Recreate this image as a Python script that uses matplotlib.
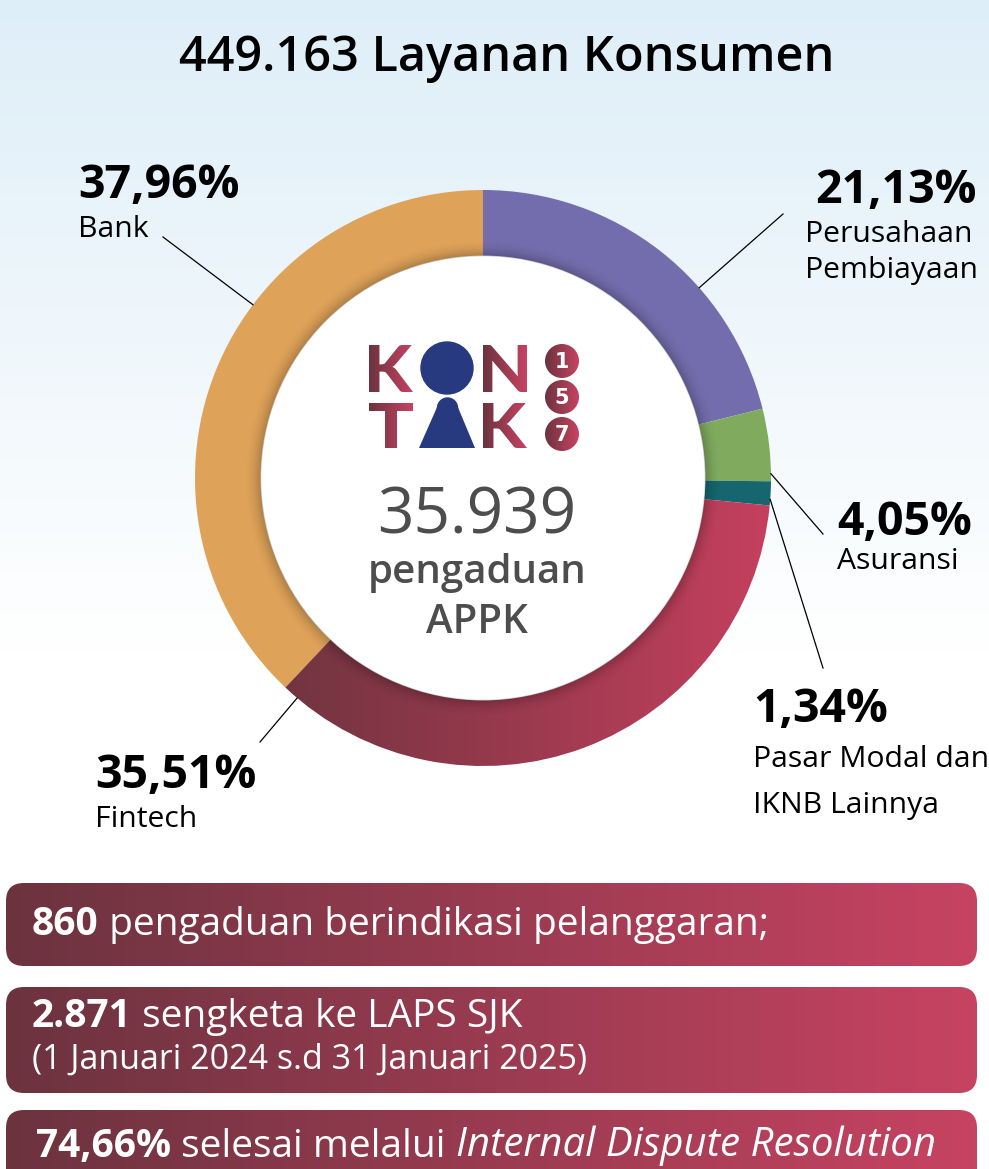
import numpy as np
import matplotlib
matplotlib.use('Agg')
import matplotlib.pyplot as plt
import matplotlib.font_manager as fm
from matplotlib.colors import LinearSegmentedColormap
from matplotlib.patches import Circle, Polygon, FancyBboxPatch, PathPatch, Wedge
from matplotlib.textpath import TextPath
from matplotlib.font_manager import FontProperties
from matplotlib.transforms import Affine2D

W, H = 989, 1169


def has_bold(fam):
    return any(f.name == fam and f.weight in (600, 700, 'bold', 'semibold')
               for f in fm.fontManager.ttflist)


FONT = next((f for f in ['Noto Sans', 'Open Sans', 'Lato', 'Roboto'] if has_bold(f)),
            'DejaVu Sans')

# data
categories = ['Perusahaan\nPembiayaan', 'Asuransi', 'Pasar Modal dan\nIKNB Lainnya', 'Fintech', 'Bank']
shares = [21.13, 4.05, 1.34, 35.51, 37.96]
share_labels = ['21,13%', '4,05%', '1,34%', '35,51%', '37,96%']
seg_colors = ['#746dad', '#80ab5f', '#15666e', '#c5405e', '#dea259']

title = '449.163 Layanan Konsumen'
center_lines = ['35.939', 'pengaduan', 'APPK']
box_rows = [
    [('860', 'bold'), (' pengaduan berindikasi pelanggaran;', 'normal')],
    [('2.871', 'bold'), (' sengketa ke LAPS SJK', 'normal')],
    [('74,66%', 'bold'), (' selesai melalui ', 'normal'), ('Internal Dispute Resolution', 'italic')],
]
box_note = '(1 Januari 2024 s.d 31 Januari 2025)'

DARK, PINK = '#6c333f', '#c74362'


def grad_fill(ax, patch, c0, c1, extent, zorder):
    patch.set_facecolor('none')
    patch.set_edgecolor('none')
    if patch.axes is None:
        ax.add_patch(patch)
    g = np.linspace(0, 1, 256).reshape(1, -1)
    cmap = LinearSegmentedColormap.from_list('g', [c0, c1])
    im = ax.imshow(g, cmap=cmap, extent=extent, aspect='auto', zorder=zorder,
                   interpolation='bilinear')
    im.set_clip_path(patch)
    return im


fig = plt.figure(figsize=(W / 100, H / 100), dpi=100)

# background
bg = fig.add_axes([0, 0, 1, 1], zorder=0)
bg.set_axis_off()
yy = np.arange(H)
t = np.clip(yy / 650.0, 0, 1)[:, None]
top = np.array([222, 238, 248]) / 255
col = top * (1 - t) + np.ones(3) * t
bg.imshow(col[:, None, :], extent=(0, W, H, 0), aspect='auto')
bg.set_xlim(0, W)
bg.set_ylim(H, 0)

# donut
cx, cy, R = 483, 478, 288
inner = 0.77
pax = fig.add_axes([(cx - R) / W, (H - cy - R) / H, 2 * R / W, 2 * R / H], zorder=1)
wedges, _ = pax.pie(shares, colors=seg_colors, startangle=90, counterclock=False,
                    radius=1, wedgeprops=dict(width=1 - inner, linewidth=0))
grad_fill(pax, wedges[3], '#6f343f', '#c5405e', (-0.75, 1.0, -1, 1), 2)
pax.add_patch(Circle((0, 0), inner, color='white', zorder=3))
n = 16
for i in range(n):
    r0 = inner + i * 0.0035
    pax.add_patch(Wedge((0, 0), r0 + 0.0035, 0, 360, width=0.0035, color='black',
                        alpha=0.22 * (1 - i / n) ** 2, lw=0, zorder=4))
pax.set_xlim(-1, 1)
pax.set_ylim(-1, 1)
pax.set_axis_off()

# overlay
ax = fig.add_axes([0, 0, 1, 1], zorder=2)
ax.set_axis_off()
ax.patch.set_alpha(0)
ax.set_autoscale_on(False)
ax.set_xlim(0, W)
ax.set_ylim(H, 0)

ax.text(507, 71, title, ha='center', va='baseline', fontsize=35,
        family=FONT, weight='semibold', color='black')

# labels and leader lines
label_pos = [
    dict(x=815, nx=805, py=203, ny=[242, 278], start=(783, 214)),
    dict(x=837, nx=837, py=535, ny=[569], start=(823, 534)),
    dict(x=753, nx=753, py=722, ny=[767, 813], start=(823, 668)),
    dict(x=95, nx=95, py=788, ny=[827], start=(260, 742)),
    dict(x=78, nx=78, py=198, ny=[237], start=(163, 237)),
]
for w, cat, lab, lp in zip(wedges, categories, share_labels, label_pos):
    ax.text(lp['x'], lp['py'], lab, ha='left', va='baseline', fontsize=33.5,
            family=FONT, weight='bold', color='black')
    for line, by in zip(cat.split('\n'), lp['ny']):
        ax.text(lp['nx'], by, line, ha='left', va='baseline', fontsize=21.7,
                family=FONT, color='black')
    # leader end: point on the outer edge facing the label, kept inside the wedge
    sx, sy = lp['start']
    a = np.degrees(np.arctan2(cy - sy, sx - cx))
    lo, hi = sorted([w.theta1, w.theta2])
    a = (a - lo) % 360 + lo
    m = min(1.5, (hi - lo) / 4)
    if a > hi - m:
        a = hi - m if (a - hi) < (lo + 360 - a) else lo + m
    a = np.deg2rad(a)
    ex, ey = cx + R * np.cos(a), cy - R * np.sin(a)
    ax.plot([sx, ex], [sy, ey], color='black', lw=0.9, zorder=5)

# logo
heavy = FontProperties(family=['Lato', 'DejaVu Sans'], weight='black')
for ch, (x0, y0, x1, y1) in [('K', (369, 345, 413, 392)), ('N', (483, 345, 527, 392)),
                             ('T', (369, 403, 413, 448)), ('K', (483, 403, 527, 448))]:
    tp = TextPath((0, 0), ch, size=100, prop=heavy)
    ext = tp.get_extents()
    tr = Affine2D().translate(-ext.x0, -ext.y0).scale((x1 - x0) / ext.width,
                                                      -(y1 - y0) / ext.height).translate(x0, y1)
    grad_fill(ax, PathPatch(tr.transform_path(tp)), DARK, PINK, (x0, x1, y1, y0), 6)

navy = '#283a7f'
ax.add_patch(Circle((447, 368), 26, color=navy, zorder=6))
ax.add_patch(Polygon([(419, 448), (475, 448), (457, 405), (438, 405)], closed=True,
                     color=navy, zorder=6, lw=0))
ax.add_patch(Circle((447.5, 408), 10, color=navy, zorder=6))
for d, ccy in zip(['1', '5', '7'], [361, 397, 434]):
    grad_fill(ax, Circle((562, ccy), 17), DARK, PINK, (545, 579, ccy + 17, ccy - 17), 6)
    ax.text(562, ccy + 1, d, ha='center', va='center', fontsize=15, weight='heavy',
            family='DejaVu Sans', color='white', zorder=7)

# center text
gray = '#4d4d4d'
ax.text(477, 534, center_lines[0], ha='center', va='baseline', fontsize=46,
        family=FONT, color=gray)
ax.text(477, 583, center_lines[1], ha='center', va='baseline', fontsize=29,
        family=FONT, weight='semibold', color=gray)
ax.text(477, 633, center_lines[2], ha='center', va='baseline', fontsize=29,
        family=FONT, weight='semibold', color=gray)

# boxes
boxes = [(883, 83), (987, 106), (1110, 106)]
for (by, bh) in boxes:
    grad_fill(ax, FancyBboxPatch((6, by), 971, bh, boxstyle='round,pad=0,rounding_size=18'),
              DARK, PINK, (6, 977, by + bh, by), 3)

row_pos = [(32, 935), (32, 1027), (36, 1157)]
for parts, (tx, ty) in zip(box_rows, row_pos):
    prev = None
    for s, style in parts:
        kw = dict(fontsize=28, family=FONT, color='white', zorder=8)
        if style == 'bold':
            kw['weight'] = 'bold'
        if style == 'italic':
            kw['style'] = 'italic'
            kw['fontsize'] = 29
        if prev is None:
            prev = ax.text(tx, ty, s, ha='left', va='baseline', **kw)
        else:
            prev = ax.annotate(s, xy=(1, 0), xycoords=prev, ha='left', va='bottom', **kw)
ax.text(32, 1069, box_note, ha='left', va='baseline', fontsize=24.5, family=FONT,
        color='white', zorder=8)

fig.savefig('out.png', dpi=100)
